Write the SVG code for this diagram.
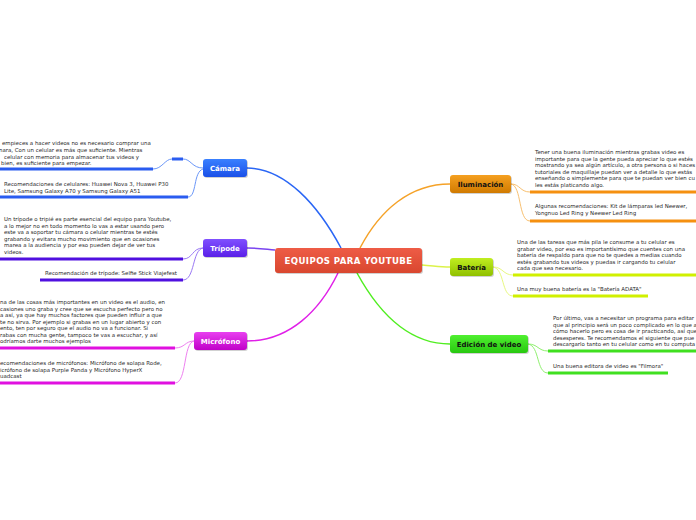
<svg xmlns="http://www.w3.org/2000/svg" width="696" height="520" viewBox="0 0 696 520">
<defs>
<linearGradient id="gC" x1="0" y1="0" x2="0" y2="1"><stop offset="0" stop-color="#3a80ff"/><stop offset="1" stop-color="#1a50e8"/></linearGradient>
<linearGradient id="gT" x1="0" y1="0" x2="0" y2="1"><stop offset="0" stop-color="#8050ff"/><stop offset="1" stop-color="#5a20e8"/></linearGradient>
<linearGradient id="gM" x1="0" y1="0" x2="0" y2="1"><stop offset="0" stop-color="#e840f0"/><stop offset="1" stop-color="#c000c8"/></linearGradient>
<linearGradient id="gI" x1="0" y1="0" x2="0" y2="1"><stop offset="0" stop-color="#f5a020"/><stop offset="1" stop-color="#d07a00"/></linearGradient>
<linearGradient id="gB" x1="0" y1="0" x2="0" y2="1"><stop offset="0" stop-color="#c0ee20"/><stop offset="1" stop-color="#90c000"/></linearGradient>
<linearGradient id="gE" x1="0" y1="0" x2="0" y2="1"><stop offset="0" stop-color="#50f030"/><stop offset="1" stop-color="#28c810"/></linearGradient>
<linearGradient id="gR" x1="0" y1="0" x2="0" y2="1"><stop offset="0" stop-color="#ee5c46"/><stop offset="1" stop-color="#d9472f"/></linearGradient>
</defs>
<style>
.sh{fill:#000;opacity:0.18}
.lbl{font-family:"DejaVu Sans",Verdana,sans-serif;font-weight:bold;font-size:7px;text-anchor:middle}
.w{fill:#fff}
.k{fill:#111}
.t{font-family:"DejaVu Sans",Verdana,sans-serif;font-size:5.45px;fill:#2a2a2a}
.c{fill:none;stroke-width:1.5}
.lc{fill:none;stroke-width:1}
.ul{fill:none;stroke-width:3}
</style>
<rect width="696" height="520" fill="#fff"/>
<g id="connectors">
<path class="c" stroke="#2a66f5" d="M247,168 C285,168 318,205 341,248"/>
<path class="c" stroke="#7a44f0" d="M247,248 C258,248 264,249 275,250"/>
<path class="c" stroke="#e020e8" d="M247,341 C290,341 320,310 338,273"/>
<path class="c" stroke="#f5a228" d="M360,248 C380,210 410,184 450,184"/>
<path class="c" stroke="#dcf24a" d="M422,265 C435,266 440,267 450,267"/>
<path class="c" stroke="#50ee20" d="M357,273 C380,315 410,344 450,344"/>
<path class="lc" stroke="#6a96f8" d="M203,168 C192,168 191,159 183,159 M172,159 C165,159 162,169 153,169"/>
<path class="ul" stroke="#2a5cf0" d="M172,159 L183,159"/>
<path class="lc" stroke="#6a96f8" d="M203,169 C193,172 197,197 188,197"/>
<path class="lc" stroke="#9a78f4" d="M203,248 C192,248 193,259 183,259"/>
<path class="lc" stroke="#9a78f4" d="M203,248 C192,250 195,280 183,280"/>
<path class="lc" stroke="#ee80f0" d="M194,341 C185,341 185,348 175,348"/>
<path class="lc" stroke="#ee80f0" d="M194,341 C183,343 187,383 175,383"/>
<path class="lc" stroke="#f8c070" d="M511,184 C520,184 520,192 530,192"/>
<path class="lc" stroke="#f8c070" d="M511,184 C522,186 518,221 530,221"/>
<path class="lc" stroke="#e8f880" d="M493,267 C503,267 503,275 513,275"/>
<path class="lc" stroke="#e8f880" d="M493,267 C505,269 501,296 513,296"/>
<path class="lc" stroke="#90f070" d="M528,344 C538,344 538,351 548,351"/>
<path class="lc" stroke="#90f070" d="M528,344 C540,346 536,373 548,373"/>
</g>
<g id="root">
<rect class="sh" x="276" y="249" width="147" height="25" rx="3"/>
<rect x="275" y="248" width="147" height="25" rx="3" fill="url(#gR)"/>
<text class="lbl w" x="348.5" y="264" style="font-size:8.6px;letter-spacing:0.4px">EQUIPOS PARA YOUTUBE</text>
</g>
<g id="camara">
<rect class="sh" x="204" y="160" width="44" height="18" rx="3"/>
<rect x="203" y="159" width="44" height="18" rx="3" fill="url(#gC)"/>
<text class="lbl w" x="225" y="170.5">Cámara</text>
</g>
<g id="camara-1">
<text class="t"><tspan x="2" y="145">empieces a hacer videos no es necesario comprar una</tspan><tspan x="-1" y="152">nara, Con un celular es más que suficiente. Mientras</tspan><tspan x="4" y="158.5">celular con memoria para almacenar tus videos y</tspan><tspan x="1" y="165">bien, es suficiente para empezar.</tspan></text>
<path class="ul" stroke="#2a5cf0" d="M0,169 L153,169"/>
</g>
<g id="camara-2">
<text class="t"><tspan x="4" y="186">Recomendaciones de celulares: Huawei Nova 3, Huawei P30</tspan><tspan x="4" y="192.5">Lite, Samsung Galaxy A70 y Samsung Galaxy A51</tspan></text>
<path class="ul" stroke="#2a5cf0" d="M0,197 L188,197"/>
</g>
<g id="tripode">
<rect class="sh" x="204" y="240" width="44" height="18" rx="3"/>
<rect x="203" y="239" width="44" height="18" rx="3" fill="url(#gT)"/>
<text class="lbl w" x="225" y="250.5">Trípode</text>
</g>
<g id="tripode-1">
<text class="t"><tspan x="4" y="221">Un trípode o tripié es parte esencial del equipo para Youtube,</tspan><tspan x="4" y="227.5">a lo mejor no en todo momento lo vas a estar usando pero</tspan><tspan x="4" y="234">este va a soportar tu cámara o celular mientras te estés</tspan><tspan x="4" y="240.5">grabando y evitara mucho movimiento que en ocasiones</tspan><tspan x="4" y="247">marea a la audiencia y por eso pueden dejar de ver tus</tspan><tspan x="4" y="253.5">videos.</tspan></text>
<path class="ul" stroke="#5010e0" d="M0,259 L183,259"/>
</g>
<g id="tripode-2">
<text class="t" x="45" y="275">Recomendación de trípode: Selfie Stick Viajefest</text>
<path class="ul" stroke="#5010e0" d="M40,280 L183,280"/>
</g>
<g id="microfono">
<rect class="sh" x="195" y="333" width="53" height="18" rx="3"/>
<rect x="194" y="332" width="53" height="18" rx="3" fill="url(#gM)"/>
<text class="lbl w" x="220.5" y="343.5">Micrófono</text>
</g>
<g id="microfono-1">
<text class="t"><tspan x="0" y="304">na de las cosas más importantes en un video es el audio, en</tspan><tspan x="0" y="310.5">casiones uno graba y cree que se escucha perfecto pero no</tspan><tspan x="0" y="317">a así, ya que hay muchos factores que pueden influir a que</tspan><tspan x="0" y="323.5">te no sirva. Por ejemplo si grabas en un lugar abierto y con</tspan><tspan x="0" y="330">ento, ten por seguro que el audio no va a funcionar. Si</tspan><tspan x="0" y="336.5">rabas con mucha gente, tampoco te vas a escuchar, y así</tspan><tspan x="0" y="343">odríamos darte muchos ejemplos</tspan></text>
<path class="ul" stroke="#e010e0" d="M0,348 L175,348"/>
</g>
<g id="microfono-2">
<text class="t"><tspan x="0" y="365">ecomendaciones de micrófonos: Micrófono de solapa Rode,</tspan><tspan x="0" y="371.5">icrófono de solapa Purple Panda y Micrófono HyperX</tspan><tspan x="0" y="378">uadcast</tspan></text>
<path class="ul" stroke="#e010e0" d="M0,383 L175,383"/>
</g>
<g id="iluminacion">
<rect class="sh" x="451" y="176" width="61" height="18" rx="3"/>
<rect x="450" y="175" width="61" height="18" rx="3" fill="url(#gI)"/>
<text class="lbl k" x="480.5" y="186.5">Iluminación</text>
</g>
<g id="iluminacion-1">
<text class="t"><tspan x="535" y="154">Tener una buena iluminación mientras grabas video es</tspan><tspan x="535" y="160.5">importante para que la gente pueda apreciar lo que estés</tspan><tspan x="535" y="167">mostrando ya sea algún artículo, a otra persona o si haces</tspan><tspan x="535" y="173.5">tutoriales de maquillaje puedan ver a detalle lo que estás</tspan><tspan x="535" y="180">enseñando o simplemente para que te puedan ver bien cu</tspan><tspan x="535" y="186.5">les estás platicando algo.</tspan></text>
<path class="ul" stroke="#f59010" d="M530,192 L696,192"/>
</g>
<g id="iluminacion-2">
<text class="t"><tspan x="535" y="208">Algunas recomendaciones: Kit de lámparas led Neewer,</tspan><tspan x="535" y="214.5">Yongnuo Led Ring y Neewer Led Ring</tspan></text>
<path class="ul" stroke="#f59010" d="M530,221 L696,221"/>
</g>
<g id="bateria">
<rect class="sh" x="451" y="259" width="43" height="18" rx="3"/>
<rect x="450" y="258" width="43" height="18" rx="3" fill="url(#gB)"/>
<text class="lbl k" x="471.5" y="269.5">Batería</text>
</g>
<g id="bateria-1">
<text class="t"><tspan x="517" y="244">Una de las tareas que más pila le consume a tu celular es</tspan><tspan x="517" y="250.5">grabar video, por eso es importantísimo que cuentes con una</tspan><tspan x="517" y="257">batería de respaldo para que no te quedes a medias cuando</tspan><tspan x="517" y="263.5">estés grabando tus videos y puedas ir cargando tu celular</tspan><tspan x="517" y="270">cada que sea necesario.</tspan></text>
<path class="ul" stroke="#d0f000" d="M513,275 L696,275"/>
</g>
<g id="bateria-2">
<text class="t" x="517" y="291">Una muy buena batería es la "Batería ADATA"</text>
<path class="ul" stroke="#d0f000" d="M513,296 L648,296"/>
</g>
<g id="edicion">
<rect class="sh" x="451" y="336" width="78" height="18" rx="3"/>
<rect x="450" y="335" width="78" height="18" rx="3" fill="url(#gE)"/>
<text class="lbl k" x="489" y="346.5">Edición de video</text>
</g>
<g id="edicion-1">
<text class="t"><tspan x="553" y="320">Por último, vas a necesitar un programa para editar</tspan><tspan x="553" y="326.5">que al principio será un poco complicado en lo que a</tspan><tspan x="553" y="333">cómo hacerlo pero es cosa de ir practicando, así que</tspan><tspan x="553" y="339.5">desesperes. Te recomendamos el siguiente que pue</tspan><tspan x="553" y="346">descargarlo tanto en tu celular como en tu computa</tspan></text>
<path class="ul" stroke="#40e020" d="M548,351 L696,351"/>
</g>
<g id="edicion-2">
<text class="t" x="553" y="368">Una buena editora de video es "Filmora"</text>
<path class="ul" stroke="#40e020" d="M548,373 L668,373"/>
</g>
</svg>
